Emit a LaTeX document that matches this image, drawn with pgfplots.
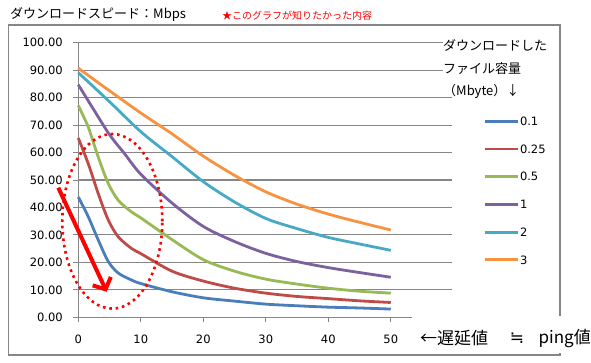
\documentclass[border=0pt]{standalone}
\usepackage{fontspec}
\setmainfont{DejaVu Sans}
\newfontfamily\jp{Noto Sans CJK JP}
\usepackage{pgfplots}
\pgfplotsset{compat=1.18}
\usetikzlibrary{arrows.meta}
\definecolor{gridgray}{HTML}{868686}
\definecolor{cBlue}{HTML}{4A7EBB}
\definecolor{cRed}{HTML}{BE4B48}
\definecolor{cGreen}{HTML}{98B954}
\definecolor{cPurple}{HTML}{7D60A0}
\definecolor{cTeal}{HTML}{46AAC5}
\definecolor{cOrange}{HTML}{F69240}
\begin{document}
\begin{tikzpicture}[x=1pt,y=1pt]
\path[use as bounding box] (0,0) rectangle (591,-362);
\draw[gridgray, line width=1.2pt] (8.3,-25) rectangle (560,-355);
\begin{axis}[
  at={(78.3pt,-317.3pt)}, anchor=south west,
  scale only axis, width=373.7pt, height=274.6pt,
  xmin=0, xmax=59.8, ymin=0, ymax=100,
  axis lines=left,
  axis line style={-, draw=gridgray, line width=1.2pt},
  xtick={0,10,...,50}, ytick={0,10,...,100},
  tick align=outside, major tick length=5pt,
  tick style={gridgray, line width=1pt},
  ymajorgrids, grid style={gridgray, line width=1.1pt},
  /pgf/number format/assume math mode=true,
  tick label style={font=\fontsize{11.5}{12}\selectfont},
  yticklabel style={xshift=-7pt, /pgf/number format/.cd, fixed, fixed zerofill, precision=2},
  xticklabel style={yshift=-9pt},
  clip=false,
  legend cell align=left,
  legend style={draw=none, fill=none, inner sep=0pt, row sep=0pt, column sep=1pt,
    at={(1.083,0.7647)}, anchor=north west,
    nodes={inner sep=0pt, text height=18pt, text depth=9.7pt, font=\fontsize{11.5}{12}\selectfont}},
  legend image code/.code={\draw[#1, line width=2.8pt] (0pt,0pt) -- (33pt,0pt);},
  every axis plot/.append style={line width=2.8pt, smooth, tension=0.5},
]
\addplot[cBlue] coordinates {(0,43.8) (1.6,36.6) (3.2,28.1) (4.8,20.3) (6.4,16.1) (8.5,13.6) (10,12.3) (15,9.3) (20,7.1) (25,5.9) (30,4.8) (35,4.2) (40,3.7) (45,3.4) (50,3.0)};
\addlegendentry{0.1}
\addplot[cRed] coordinates {(0,65.3) (1.6,55.9) (3.2,45.0) (4.8,35.4) (6.4,29.3) (8.5,25.1) (10,23.2) (15,16.8) (20,13.2) (25,10.6) (30,8.8) (35,7.6) (40,6.8) (45,6.0) (50,5.4)};
\addlegendentry{0.25}
\addplot[cGreen] coordinates {(0,77.1) (1.6,69.2) (3.2,58.3) (4.8,48.7) (6.4,42.6) (8.5,38.4) (10,36.2) (15,28.3) (20,21.0) (25,16.8) (30,13.9) (35,12.1) (40,10.6) (45,9.5) (50,8.8)};
\addlegendentry{0.5}
\addplot[cPurple] coordinates {(0,84.7) (2.5,75.5) (5,66.5) (7.5,59.3) (10,52.1) (15,41.6) (20,33.1) (25,27.6) (30,23.3) (35,20.3) (40,18.1) (45,16.3) (50,14.6)};
\addlegendentry{1}
\addplot[cTeal] coordinates {(0,89.1) (5,78.5) (10,67.6) (15,58.5) (20,49.4) (25,42.0) (30,36.0) (35,32.3) (40,29.1) (45,26.7) (50,24.4)};
\addlegendentry{2}
\addplot[cOrange] coordinates {(0,90.7) (5,82.5) (10,74.4) (15,66.8) (20,58.7) (25,51.7) (30,45.7) (35,41.2) (40,37.6) (45,34.6) (50,31.8)};
\addlegendentry{3}
\draw[red, line width=2.6pt, dash pattern=on 2.6pt off 3.8pt] (axis cs:5.44,34.96) ellipse [x radius=50pt, y radius=87.3pt];
\draw[red, line width=4pt, -{Straight Barb[length=9pt, width=20pt]}] (axis cs:-3.2,47.2) -- (axis cs:4.54,9.3);
\end{axis}
% title texts
\node[anchor=west, inner sep=0pt, font=\jp\fontsize{13}{13}\selectfont] at (10,-14) {ダウンロードスピード：Mbps};
\node[anchor=west, inner sep=0pt, text=red, font=\jp\fontsize{10}{10}\selectfont] at (222,-16) {★このグラフが知りたかった内容};
% legend title
\fill[white] (443,-30) rectangle (555,-93);
\node[anchor=west, inner sep=0pt, font=\jp\fontsize{13}{13}\selectfont] at (443,-45) {ダウンロードした};
\node[anchor=west, inner sep=0pt, font=\jp\fontsize{13}{13}\selectfont] at (443,-68.3) {ファイル容量};
\node[anchor=west, inner sep=0pt, font=\jp\fontsize{13}{13}\selectfont] at (443,-91) {（Mbyte）↓};
% x axis caption
\fill[white] (412,-316) rectangle (591,-353);
\node[anchor=west, inner sep=0pt, font=\jp\fontsize{17}{17}\selectfont] at (420,-338) {←遅延値};
\node[inner sep=0pt, font=\fontsize{17}{17}\selectfont] at (517,-338) {≒};
\node[anchor=east, inner sep=0pt, font=\jp\fontsize{17}{17}\selectfont] at (591,-338) {ping値};
\end{tikzpicture}
\end{document}
